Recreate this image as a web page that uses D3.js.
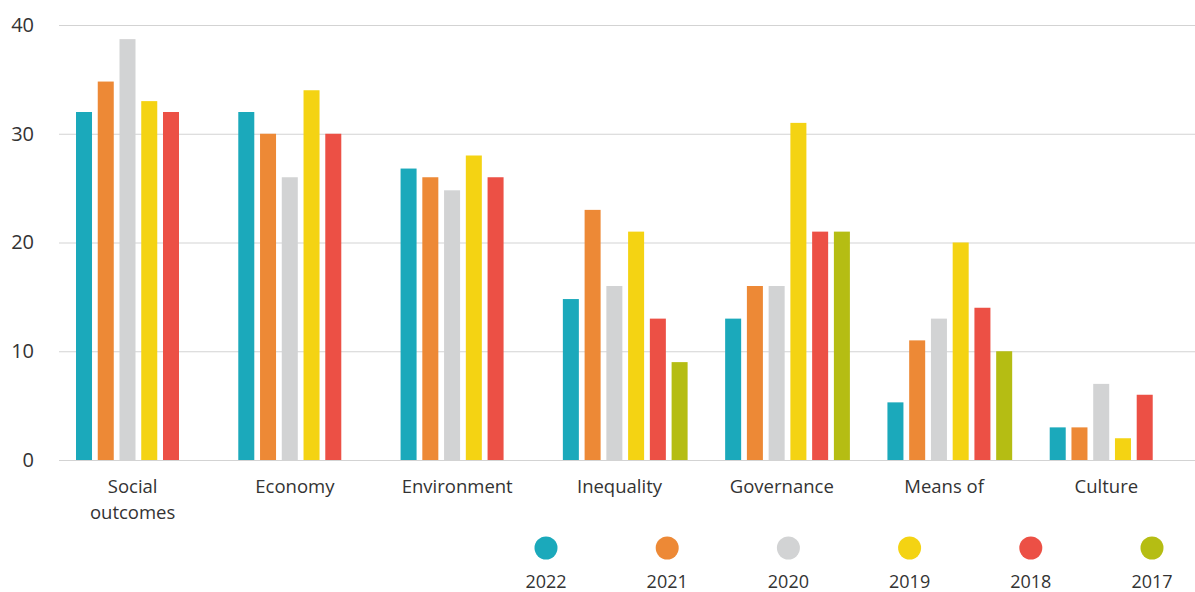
<!DOCTYPE html>
<html><head><meta charset="utf-8">
<script src="https://cdn.jsdelivr.net/npm/d3@7"></script>
<style>
html,body{margin:0;padding:0;background:#fff;}
svg text{font-family:"Open Sans",sans-serif;fill:#333;}
</style></head>
<body><svg id="chart" width="1195" height="592"></svg>
<script>
const categories = ["Social outcomes","Economy","Environment","Inequality","Governance","Means of","Culture"];
const categoryLines = [["Social","outcomes"],["Economy"],["Environment"],["Inequality"],["Governance"],["Means of"],["Culture"]];
const years = ["2022","2021","2020","2019","2018","2017"];
const colors = ["#1ba9bb","#ed8936","#d2d3d4","#f4d313","#ec5045","#b5bd13"];
const v2022 = [32, 32, 26.8, 14.8, 13, 5.3, 3];
const v2021 = [34.8, 30, 26, 23, 16, 11, 3];
const v2020 = [38.7, 26, 24.8, 16, 16, 13, 7];
const v2019 = [33, 34, 28, 21, 31, 20, 2];
const v2018 = [32, 30, 26, 13, 21, 14, 6];
const v2017 = [null, null, null, 9, 21, 10, null];
const series = [v2022, v2021, v2020, v2019, v2018, v2017];
const yTicks = [0, 10, 20, 30, 40];

const svg = d3.select("#chart");
const plot = {left: 59, right: 1195, top: 25, bottom: 460};

const x0 = d3.scaleBand().domain(categories).range([plot.left, plot.right]).paddingInner(0).paddingOuter(0);
const x1 = d3.scaleBand().domain(years).range([17, 141.75]).paddingInner(0.264).paddingOuter(0);
const y = d3.scaleLinear().domain([0, 40]).range([plot.bottom, plot.top]);

// grid
const yAxis = d3.axisLeft(y).tickValues(yTicks).tickSize(-(plot.right - plot.left)).tickPadding(25);
const ga = svg.append("g").attr("transform", `translate(${plot.left},0)`).call(yAxis);
ga.select(".domain").remove();
ga.selectAll(".tick line").attr("stroke", "#d3d3d3").attr("stroke-width", 1.2);
ga.selectAll(".tick text").style("font-size", "20px").style("fill", "#333").attr("x", -25);

// bars
const groups = svg.append("g").selectAll("g").data(categories).join("g")
  .attr("transform", d => `translate(${x0(d)},0)`);
groups.selectAll("rect").data((c, i) => years.map((yr, j) => ({yr, j, v: series[j][i]})).filter(d => d.v != null))
  .join("rect")
  .attr("x", d => x1(d.yr))
  .attr("width", x1.bandwidth())
  .attr("y", d => y(d.v))
  .attr("height", d => y(0) - y(d.v))
  .attr("fill", d => colors[d.j]);

// x labels
const xl = svg.append("g").selectAll("text").data(categories).join("text")
  .attr("x", d => x0(d) + x0.bandwidth() / 2 - 7.5)
  .attr("y", 493)
  .attr("text-anchor", "middle")
  .style("font-size", "18.5px");
xl.each(function(d, i) {
  const t = d3.select(this);
  categoryLines[i].forEach((line, k) => {
    t.append("tspan").attr("x", x0(d) + x0.bandwidth() / 2 - 7.5).attr("dy", k === 0 ? 0 : 26).text(line);
  });
});

// legend
const lx = d3.scalePoint().domain(years).range([546, 1152]);
const lg = svg.append("g").selectAll("g").data(years).join("g")
  .attr("transform", d => `translate(${lx(d)},0)`);
lg.append("circle").attr("cy", 548).attr("r", 11.5).attr("fill", (d, i) => colors[i]);
lg.append("text").attr("y", 588).attr("text-anchor", "middle").style("font-size", "18px").text(d => d);
</script></body></html>
